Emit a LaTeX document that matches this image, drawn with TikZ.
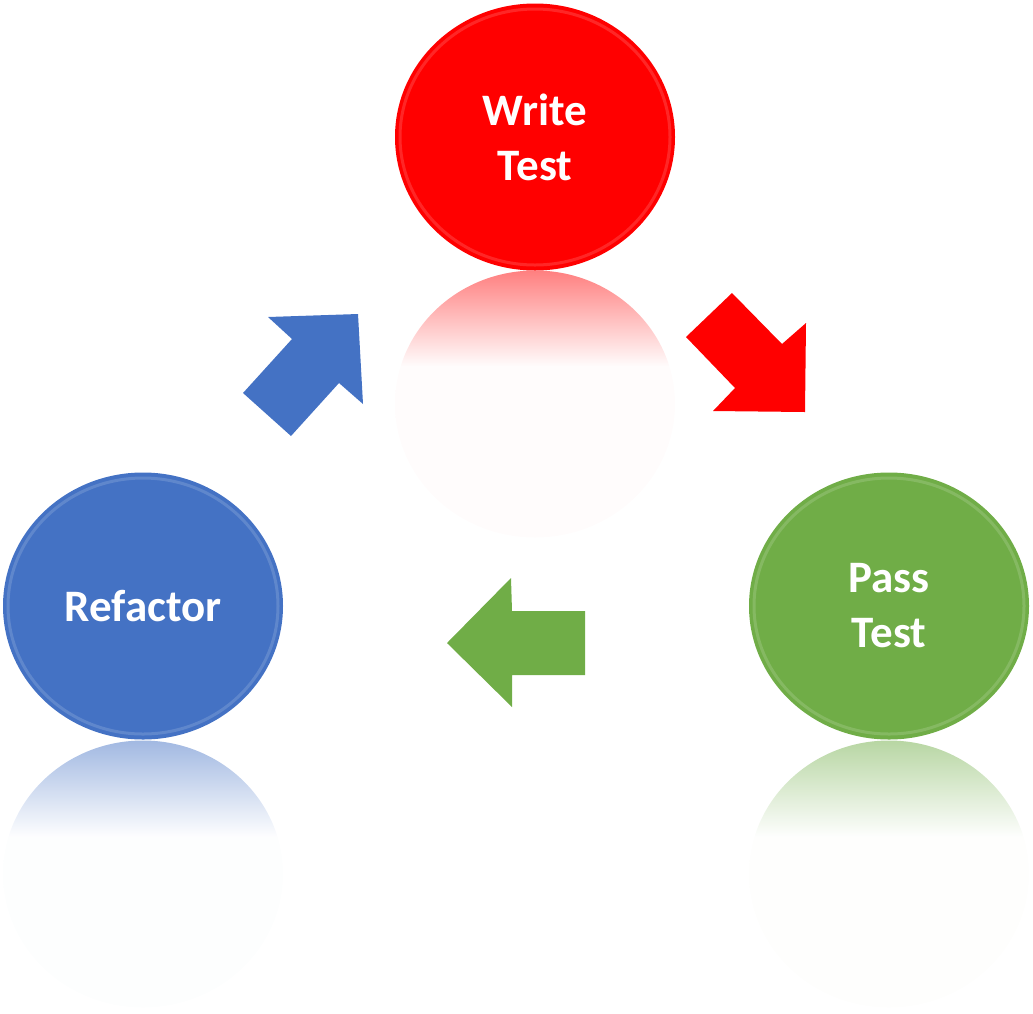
\documentclass[tikz,border=0pt]{standalone}
\usepackage{fontspec}
\setmainfont{Carlito}
\usetikzlibrary{shapes.geometric}

\definecolor{writered}{HTML}{FF0000}
\definecolor{refactorblue}{HTML}{4472C4}
\definecolor{passgreen}{HTML}{70AD47}

% mirror images under the bubbles: tinted at the top, fading to white
\pgfdeclareverticalshading{mirrorred}{100bp}{color(0bp)=(writered!1); color(57bp)=(writered!1); color(75bp)=(writered!50); color(100bp)=(writered!50)}
\pgfdeclareverticalshading{mirrorblue}{100bp}{color(0bp)=(refactorblue!1); color(57bp)=(refactorblue!1); color(75bp)=(refactorblue!50); color(100bp)=(refactorblue!50)}
\pgfdeclareverticalshading{mirrorgreen}{100bp}{color(0bp)=(passgreen!1); color(57bp)=(passgreen!1); color(75bp)=(passgreen!50); color(100bp)=(passgreen!50)}

\tikzset{
  bubble/.style={ellipse, minimum width=280pt, minimum height=267pt, inner sep=0pt,
    text=white, font=\bfseries\fontsize{45}{55}\selectfont, align=center},
  rim/.style={draw=white, draw opacity=0.15, line width=3pt},
  mirror/.style={x radius=140pt, y radius=133.5pt},
}

\begin{document}
\begin{tikzpicture}[x=1pt,y=-1pt]
    \useasboundingbox (0,0) rectangle (1033,1013);

    % reflections
    \path[shading=mirrorred] (535,404) ellipse [mirror];
    \path[shading=mirrorblue] (143,874) ellipse [mirror];
    \path[shading=mirrorgreen] (889,874) ellipse [mirror];

    % the three steps
    \node (write) [bubble, fill=writered] at (535,137) {Write\\Test};
    \node (refactor) [bubble, fill=refactorblue] at (143,606) {Refactor};
    \node (pass) [bubble, fill=passgreen] at (889,606) {Pass\\Test};
    \draw[rim] (write.center) ellipse [x radius=135pt, y radius=128pt];
    \draw[rim] (refactor.center) ellipse [x radius=135pt, y radius=128pt];
    \draw[rim] (pass.center) ellipse [x radius=135pt, y radius=128pt];

    % block arrows
    \fill[writered] (732,293) -- (782,344) -- (806,323) -- (805,412)
        -- (713,411) -- (735,388) -- (686,337) -- cycle;
    \fill[passgreen] (447,643) -- (511,578) -- (512,611) -- (585,611)
        -- (585,675) -- (512,675) -- (512,707) -- cycle;
    \fill[refactorblue] (243,393) -- (292,339) -- (268,317) -- (358,314)
        -- (363,404) -- (339,383) -- (291,436) -- cycle;

\end{tikzpicture}
\end{document}
